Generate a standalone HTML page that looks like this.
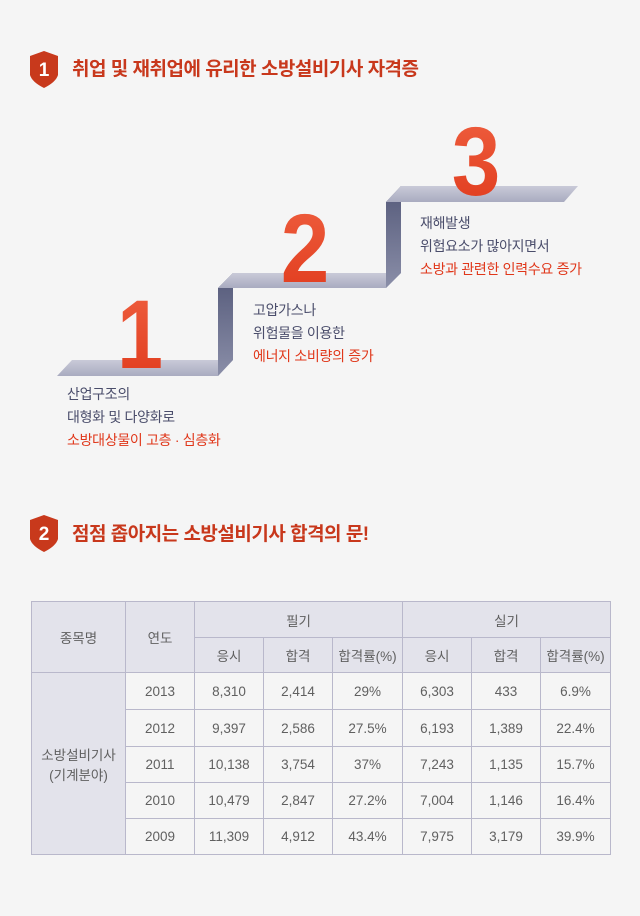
<!DOCTYPE html>
<html><head><meta charset="utf-8"><style>
body{margin:0;width:640px;height:916px;background:#f5f5f5;font-family:"Liberation Sans","Noto Sans CJK KR",sans-serif;position:relative;overflow:hidden}
.title{position:absolute;left:72px;font-size:19px;font-weight:bold;color:#c8381c;letter-spacing:-0.5px;line-height:24px}
.shield{position:absolute}
.txt{position:absolute;font-size:14px;line-height:23px;color:#4a4d6b;letter-spacing:-0.3px}
.txt .r{color:#e0371a}
table{position:absolute;left:31px;top:601px;border-collapse:collapse;font-size:13.5px;color:#606060}
td{border:1px solid #b9b8cb;text-align:center;padding:0;background:#f5f5f5}
td.h{background:#e3e3eb}
</style></head><body>
<svg class="shield" style="left:30px;top:51px" width="28" height="37" viewBox="0 0 28 37"><path d="M14 0 L28 5 L28 24 Q26 31 14 37 Q2 31 0 24 L0 5 Z" fill="#c8391c"/><text x="14" y="25" fill="#fff" font-size="19" font-weight="bold" text-anchor="middle" font-family="Liberation Sans">1</text></svg>
<div class="title" style="top:58px">취업 및 재취업에 유리한 소방설비기사 자격증</div>

<svg style="position:absolute;left:0;top:0" width="640" height="460">
<defs>
<linearGradient id="sf" x1="0" y1="0" x2="0" y2="1"><stop offset="0" stop-color="#c9cad8"/><stop offset="1" stop-color="#a9abc0"/></linearGradient>
<linearGradient id="rs" x1="0" y1="0" x2="0" y2="1"><stop offset="0" stop-color="#555a7a"/><stop offset="1" stop-color="#8a8ea8"/></linearGradient>
<linearGradient id="nm" x1="0" y1="0" x2="0" y2="1"><stop offset="0" stop-color="#ef6040"/><stop offset="1" stop-color="#e03a1c"/></linearGradient>
</defs>
<polygon points="57,376 72,360 233,360 218,376" fill="url(#sf)"/>
<polygon points="218,288 233,273 233,360 218,376" fill="url(#rs)"/>
<polygon points="218,288 233,273 401,273 386,288" fill="url(#sf)"/>
<polygon points="386,202 401,186 401,273 386,288" fill="url(#rs)"/>
<polygon points="386,202 401,186 578,186 564,202" fill="url(#sf)"/>
<text transform="translate(140,368) scale(0.85,1)" font-size="97" font-weight="bold" fill="url(#nm)" text-anchor="middle" font-family="Liberation Sans">1</text>
<text transform="translate(305,282) scale(0.9,1)" font-size="97" font-weight="bold" fill="url(#nm)" text-anchor="middle" font-family="Liberation Sans">2</text>
<text transform="translate(476,195) scale(0.9,1)" font-size="97" font-weight="bold" fill="url(#nm)" text-anchor="middle" font-family="Liberation Sans">3</text>
</svg>

<div class="txt" style="left:67px;top:383px">산업구조의<br>대형화 및 다양화로<br><span class="r">소방대상물이 고층 · 심층화</span></div>
<div class="txt" style="left:253px;top:299px">고압가스나<br>위험물을 이용한<br><span class="r">에너지 소비량의 증가</span></div>
<div class="txt" style="left:420px;top:212px">재해발생<br>위험요소가 많아지면서<br><span class="r">소방과 관련한 인력수요 증가</span></div>

<svg class="shield" style="left:30px;top:515px" width="28" height="37" viewBox="0 0 28 37"><path d="M14 0 L28 5 L28 24 Q26 31 14 37 Q2 31 0 24 L0 5 Z" fill="#c8391c"/><text x="14" y="25" fill="#fff" font-size="19" font-weight="bold" text-anchor="middle" font-family="Liberation Sans">2</text></svg>
<div class="title" style="top:523px">점점 좁아지는 소방설비기사 합격의 문!</div>

<table>
<colgroup><col style="width:94px"><col style="width:69px"><col style="width:69px"><col style="width:69px"><col style="width:70px"><col style="width:69px"><col style="width:69px"><col style="width:70px"></colgroup>
<tr style="height:36px"><td class="h" rowspan="2">종목명</td><td class="h" rowspan="2">연도</td><td class="h" colspan="3">필기</td><td class="h" colspan="3">실기</td></tr>
<tr style="height:35px"><td class="h">응시</td><td class="h">합격</td><td class="h">합격률(%)</td><td class="h">응시</td><td class="h">합격</td><td class="h">합격률(%)</td></tr>
<tr style="height:37px"><td class="h" rowspan="5">소방설비기사<br>(기계분야)</td><td>2013</td><td>8,310</td><td>2,414</td><td>29%</td><td>6,303</td><td>433</td><td>6.9%</td></tr>
<tr style="height:37px"><td>2012</td><td>9,397</td><td>2,586</td><td>27.5%</td><td>6,193</td><td>1,389</td><td>22.4%</td></tr>
<tr style="height:36px"><td>2011</td><td>10,138</td><td>3,754</td><td>37%</td><td>7,243</td><td>1,135</td><td>15.7%</td></tr>
<tr style="height:36px"><td>2010</td><td>10,479</td><td>2,847</td><td>27.2%</td><td>7,004</td><td>1,146</td><td>16.4%</td></tr>
<tr style="height:36px"><td>2009</td><td>11,309</td><td>4,912</td><td>43.4%</td><td>7,975</td><td>3,179</td><td>39.9%</td></tr>
</table>
</body></html>
